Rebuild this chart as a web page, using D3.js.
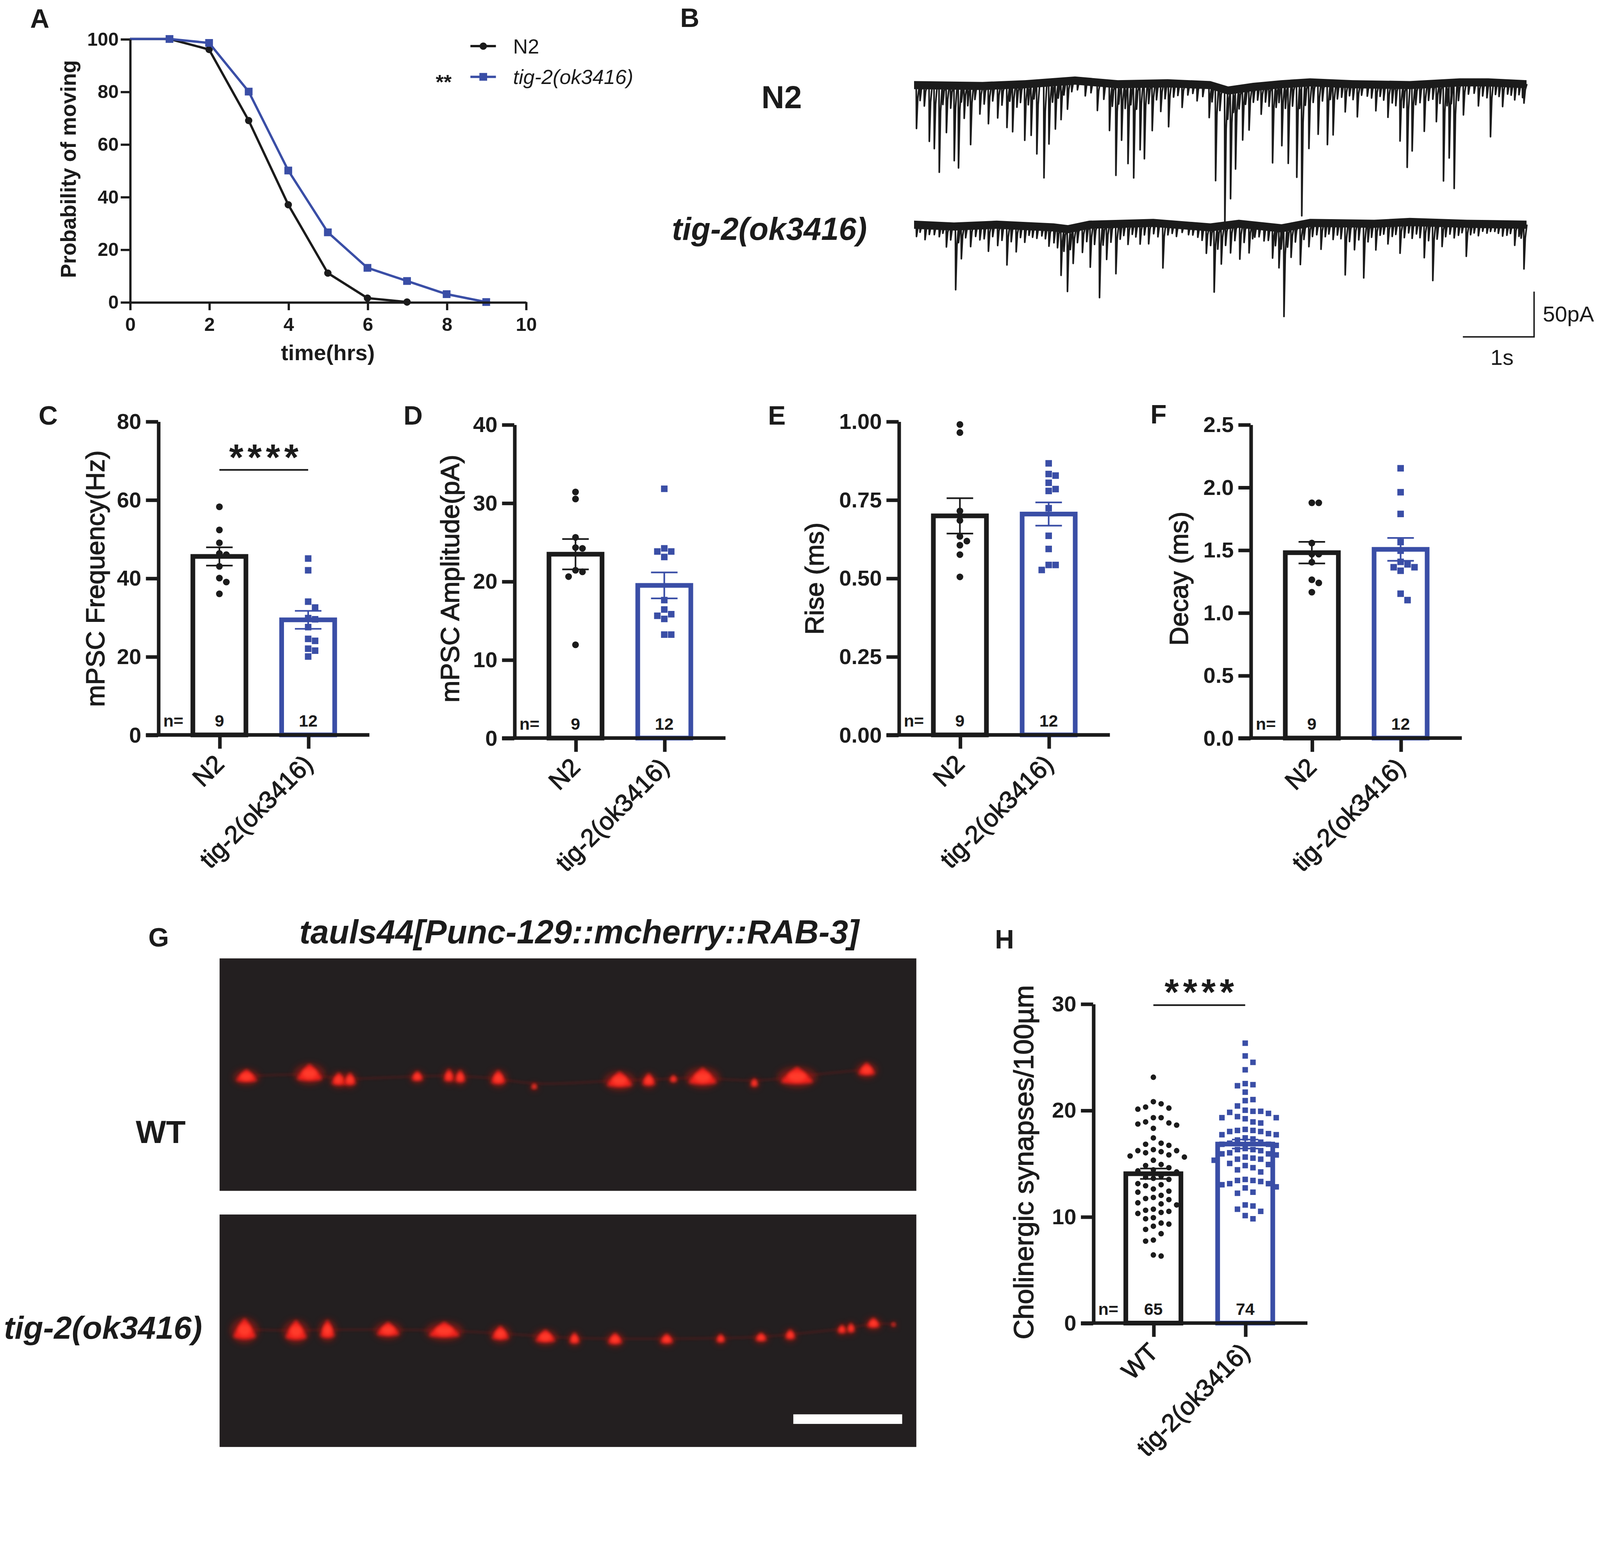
<!DOCTYPE html>
<html>
<head>
<meta charset="utf-8">
<title>tig-2 figure</title>
<script src="https://cdn.jsdelivr.net/npm/d3@7/dist/d3.min.js"></script>
<style>
  html, body { margin: 0; padding: 0; background: #fff; overflow: hidden; }
  svg { display: block; width: 100vw; height: 100vh; }
</style>
</head>
<body>
<svg id="figure"></svg>
<script>
// ---- values ----

// A: probability of moving
const hours = [0, 1, 2, 3, 4, 5, 6, 7, 8, 9];
const movingN2 = [100, 100, 96, 69, 37, 11, 1.5, 0];
const movingTig = [100, 100, 98.5, 80, 50, 26.5, 13, 8, 3, 0];
const hourTicks = [0, 2, 4, 6, 8, 10];
const movingTicks = [0, 20, 40, 60, 80, 100];

// B: mPSC traces, events as [time s, amplitude pA], baseline drift as [time s, pA]
const n2Spikes = [
  [0.07,48],[0.25,62],[0.32,70],[0.39,96],[0.49,52],[0.60,83],[0.66,91],[0.74,36],[0.83,65],[0.96,31],
  [1.08,42],[1.21,36],[1.34,47],[1.42,52],[1.59,62],[1.68,57],[1.76,78],[1.86,105],[1.93,68],[2.02,52],
  [2.10,42],[2.19,31],[2.44,16],[2.61,31],[2.78,52],[2.87,101],[2.95,62],[3.04,88],[3.12,104],[3.21,73],
  [3.27,83],[3.38,52],[3.50,31],[3.61,48],[3.80,26],[4.01,18],[4.18,36],[4.27,104],[4.40,147],[4.48,120],
  [4.55,88],[4.65,57],[4.74,47],[4.91,31],[5.07,86],[5.20,68],[5.29,88],[5.41,104],[5.48,147],[5.58,73],
  [5.71,57],[5.84,68],[5.92,57],[6.09,31],[6.26,36],[6.52,29],[6.69,36],[6.86,62],[6.96,91],[7.03,73],
  [7.20,52],[7.37,42],[7.47,108],[7.55,83],[7.62,117],[7.75,36],[7.96,26],[8.13,60],[8.30,26],[8.47,18],[8.60,21]
];
const n2SmallEvents = [
  [0.12,17],[0.18,23],[0.44,21],[0.55,25],[0.70,18],[0.79,22],[0.89,15],[1.02,20],[1.14,17],[1.27,22],
  [1.38,18],[1.48,25],[1.53,20],[1.64,23],[1.72,17],[1.98,22],[2.06,18],[2.14,15],[2.25,12],[2.33,10],
  [2.52,12],[2.70,18],[2.82,25],[2.91,22],[3.00,27],[3.08,23],[3.16,28],[3.33,22],[3.44,18],[3.56,17],
  [3.68,15],[3.74,13],[3.88,12],[3.95,10],[4.09,13],[4.22,18],[4.33,25],[4.44,32],[4.52,25],[4.60,22],
  [4.69,18],[4.80,17],[4.86,15],[4.97,18],[5.02,23],[5.12,25],[5.16,20],[5.25,27],[5.35,25],[5.45,28],
  [5.53,25],[5.64,22],[5.77,20],[5.88,18],[5.98,17],[6.04,15],[6.15,13],[6.20,17],[6.32,12],[6.40,13],
  [6.46,15],[6.58,13],[6.63,17],[6.75,20],[6.80,23],[6.91,25],[7.08,22],[7.14,20],[7.26,18],[7.32,17],
  [7.42,22],[7.52,25],[7.58,23],[7.68,20],[7.82,13],[7.90,12],[8.02,15],[8.08,17],[8.20,13],[8.25,15],
  [8.37,12],[8.42,13],[8.53,12],[8.58,15]
];
const tigSpikes = [
  [0.07,13],[0.19,16],[0.32,10],[0.49,23],[0.62,70],[0.70,36],[0.83,23],[0.96,16],[1.08,29],[1.21,23],
  [1.34,44],[1.47,29],[1.59,18],[1.76,13],[1.93,21],[2.10,52],[2.19,69],[2.27,39],[2.40,29],[2.51,47],
  [2.64,81],[2.74,39],[2.87,55],[3.04,23],[3.21,23],[3.33,23],[3.53,49],[3.72,13],[3.89,10],[4.14,29],
  [4.25,72],[4.35,42],[4.48,31],[4.61,39],[4.74,31],[4.82,13],[4.95,16],[5.07,34],[5.16,44],[5.23,98],
  [5.33,34],[5.46,44],[5.58,26],[5.75,29],[5.92,18],[6.09,57],[6.22,29],[6.35,60],[6.52,29],[6.69,23],
  [6.86,34],[7.03,18],[7.20,39],[7.32,64],[7.45,26],[7.62,16],[7.79,36],[7.96,13],[8.13,8],[8.30,13],
  [8.47,23],[8.60,49]
];
const tigSmallEvents = [
  [0.12,8],[0.25,10],[0.39,12],[0.44,8],[0.55,15],[0.66,18],[0.76,13],[0.90,12],[1.02,15],[1.14,13],
  [1.27,17],[1.40,18],[1.53,13],[1.65,10],[1.70,12],[1.83,10],[1.88,13],[2.00,17],[2.05,22],[2.14,25],
  [2.23,23],[2.33,17],[2.46,18],[2.57,22],[2.69,23],[2.80,20],[2.93,17],[2.98,13],[3.10,12],[3.15,15],
  [3.27,13],[3.40,12],[3.46,15],[3.60,12],[3.66,10],[3.80,8],[3.95,10],[4.02,12],[4.08,15],[4.20,20],
  [4.30,25],[4.41,22],[4.54,18],[4.67,20],[4.79,15],[4.88,12],[5.01,15],[5.11,20],[5.19,23],[5.28,22],
  [5.39,18],[5.51,17],[5.63,15],[5.69,13],[5.81,15],[5.86,12],[5.98,13],[6.03,17],[6.15,20],[6.28,18],
  [6.41,20],[6.46,15],[6.58,13],[6.63,12],[6.75,15],[6.80,13],[6.92,17],[6.98,12],[7.09,13],[7.14,17],
  [7.26,20],[7.38,18],[7.50,15],[7.56,12],[7.68,13],[7.73,10],[7.85,12],[7.90,10],[8.02,8],[8.08,10],
  [8.19,8],[8.24,10],[8.36,12],[8.41,10],[8.53,13],[8.56,15]
];
const n2Drift = [[0.04,0],[1.0,-1],[1.6,1],[2.3,5],[2.9,1],[3.6,2],[4.2,0],[4.45,-6],[4.8,-2],[5.2,1],[5.6,3],[6.2,1],[7.0,0],[7.7,3],[8.1,3],[8.64,1]];
const tigDrift = [[0.04,0],[0.6,-2],[1.2,0],[2.0,-3],[2.2,-5],[2.5,0],[3.4,2],[4.2,-3],[4.6,1],[5.2,-4],[5.6,2],[6.5,1],[7.0,3],[7.8,1],[8.64,0]];
const noisePA = 4.5;
const scaleBarPA = 50;
const scaleBarS = 1;

// C-F: electrophysiology per animal
const electroGroups = ["N2", "tig-2(ok3416)"];
const freqN2 = [58.2, 52.3, 49.0, 46.3, 46.0, 43.0, 40.0, 39.0, 36.0];
const freqTig = [45.0, 42.0, 34.0, 32.5, 29.8, 29.5, 27.5, 24.5, 24.0, 22.0, 21.5, 20.0];
const freqTicks = [0, 20, 40, 60, 80];
const ampN2 = [31.4, 30.5, 25.6, 24.3, 24.2, 21.4, 21.2, 20.6, 11.9];
const ampTig = [31.8, 24.2, 23.8, 23.8, 23.1, 17.6, 16.4, 15.8, 15.6, 15.2, 13.2, 13.2];
const ampTicks = [0, 10, 20, 30, 40];
const riseN2 = [0.99, 0.964, 0.714, 0.684, 0.633, 0.618, 0.605, 0.575, 0.504];
const riseTig = [0.866, 0.832, 0.827, 0.804, 0.784, 0.778, 0.723, 0.635, 0.593, 0.542, 0.542, 0.526];
const riseTicks = [0, 0.25, 0.5, 0.75, 1.0];
const decayN2 = [1.876, 1.876, 1.555, 1.466, 1.466, 1.402, 1.262, 1.237, 1.163];
const decayTig = [2.151, 1.96, 1.787, 1.563, 1.494, 1.405, 1.385, 1.362, 1.362, 1.334, 1.151, 1.1];
const decayTicks = [0, 0.5, 1.0, 1.5, 2.0, 2.5];

// G: puncta along the nerve cord, [x um, y um, width um, height um]
const wtPuncta = [
  [2.47,10.82,1.5,0.9],[8.26,10.54,1.8,1.2],[10.95,11.1,1.0,0.9],[11.98,11.1,0.8,0.9],[18.16,10.82,0.8,0.7],
  [21.07,10.76,0.7,0.9],[22.1,10.85,0.7,0.9],[25.6,10.95,1.0,1.0],[28.9,11.73,0.4,0.4],[36.74,11.16,1.8,1.1],
  [39.42,11.16,0.9,0.9],[41.69,11.04,0.5,0.5],[44.37,10.88,2.0,1.2],[49.12,11.4,0.5,0.6],[53.04,10.82,2.3,1.2],
  [59.44,10.2,1.2,0.9]
];
const tigPuncta = [
  [2.29,10.57,1.6,1.5],[7.02,10.68,1.5,1.4],[9.91,10.57,1.0,1.3],[15.48,10.57,1.6,1.0],[20.64,10.63,2.2,1.1],
  [25.8,10.91,1.2,1.0],[29.93,11.2,1.4,0.9],[32.6,11.37,0.7,0.8],[36.33,11.42,1.0,0.8],[41.07,11.42,0.9,0.7],
  [46.03,11.37,0.6,0.6],[49.74,11.26,0.8,0.6],[52.42,11.02,0.7,0.7],[57.17,10.52,0.6,0.6],[58.0,10.4,0.5,0.7],
  [60.06,9.96,0.9,0.7],[61.91,10.07,0.3,0.3]
];
const scaleBarUm = 10;

// H: cholinergic synapses per 100 um
const synGroups = ["WT", "tig-2(ok3416)"];
const synWT = [
  23.1, 20.8, 20.6, 20.3, 20.2, 20.1, 19.3, 19.3, 18.9, 18.8, 18.7, 18.6, 18.3, 17.4,
  16.9, 16.8, 16.7, 16.3, 16.2, 16.2, 16.1, 16.0, 15.8, 15.7, 15.6, 15.3, 14.9, 14.8, 14.6,
  14.4, 14.3, 14.2, 13.8, 13.7, 13.6, 13.5, 13.1, 13.0, 12.9, 12.6, 12.4, 12.3, 12.0,
  11.8, 11.7, 11.6, 11.3, 11.2, 11.1, 10.7, 10.6, 10.5, 10.4, 10.3, 9.9, 9.8,
  9.4, 9.3, 9.1, 8.8, 8.4, 7.8, 7.7, 6.4, 6.3
];
const synTig = [
  26.3, 25.1, 24.5, 23.8, 22.5, 22.4, 22.3, 21.7, 21.0, 20.9, 20.4,
  20.0, 19.9, 19.9, 19.8, 19.7, 19.4, 19.3, 19.3, 19.2, 18.9, 18.8,
  18.2, 18.1, 18.1, 18.0, 18.0, 17.8, 17.7, 17.7, 17.4, 17.3, 17.2,
  17.0, 16.9, 16.8, 16.8, 16.7, 16.4, 16.3, 16.3, 16.2, 16.0, 15.9, 15.9, 15.8,
  15.6, 15.5, 15.4, 15.4, 15.3, 15.0, 14.9, 14.8, 14.6, 14.4, 14.2,
  13.5, 13.4, 13.4, 13.3, 13.1, 13.1, 13.0, 12.8, 12.7, 12.3, 12.2,
  11.1, 11.0, 10.7, 10.5, 10.1, 9.8
];
const synTicks = [0, 10, 20, 30];

// ---- drawing ----
const ink = "#1b1b1b";
const blue = "#3a4ea6";
const FONT = "'Liberation Sans', Arial, Helvetica, sans-serif";
const VW = 1568, VH = 1435.7;

const svg = d3.select("#figure")
  .attr("viewBox", `0 0 ${VW} ${VH}`)
  .attr("preserveAspectRatio", "xMinYMin meet")
  .style("font-family", FONT);

svg.append("rect").attr("width", VW).attr("height", VH).attr("fill", "#fff");
const defs = svg.append("defs");

function label(parent, txt, x, y, size, opts = {}) {
  const t = parent.append("text")
    .attr("x", x)
    .attr("y", y + 0.358 * size)
    .attr("text-anchor", opts.anchor || "middle")
    .attr("font-size", size)
    .attr("font-weight", opts.bold ? "bold" : "normal")
    .attr("font-style", opts.italic ? "italic" : "normal")
    .attr("font-family", FONT)
    .attr("fill", opts.color || ink)
    .text(txt);
  if (opts.heavy) t.attr("stroke", opts.color || ink).attr("stroke-width", opts.heavy);
  return t;
}

function styleAxis(a, width, size, bold) {
  a.selectAll("path, line").attr("stroke", ink).attr("stroke-width", width);
  a.selectAll("text")
    .attr("fill", ink)
    .attr("font-size", size)
    .attr("font-weight", bold ? "bold" : "normal")
    .attr("font-family", FONT);
}

function marker(g, shape, cx, cy, size, color) {
  if (shape === "circle") {
    g.append("circle").attr("cx", cx).attr("cy", cy).attr("r", size / 2).attr("fill", color);
  } else {
    g.append("rect").attr("x", cx - size / 2).attr("y", cy - size / 2)
      .attr("width", size).attr("height", size).attr("fill", color);
  }
}

// A
function drawSurvival() {
  const g = svg.append("g");
  const x = d3.scaleLinear().domain([0, 10]).range([127.3, 515.3]);
  const y = d3.scaleLinear().domain([0, 100]).range([296, 38.2]);

  const series = [
    { values: movingN2, color: ink, shape: "circle", size: 7.2 },
    { values: movingTig, color: blue, shape: "square", size: 7.6 }
  ];
  const line = d3.line().x(d => x(d[0])).y(d => y(d[1]));
  series.forEach(s => {
    const pts = s.values.map((v, i) => [hours[i], v]);
    g.append("path").datum(pts).attr("d", line)
      .attr("fill", "none").attr("stroke", s.color).attr("stroke-width", 2.3);
    pts.filter(p => p[0] > 0).forEach(p => marker(g, s.shape, x(p[0]), y(p[1]), s.size, s.color));
  });

  const xAxis = g.append("g").attr("transform", `translate(0,${y(0)})`)
    .call(d3.axisBottom(x).tickValues(hourTicks).tickSize(8).tickPadding(7).tickSizeOuter(0));
  const yAxis = g.append("g").attr("transform", `translate(${x(0)},0)`)
    .call(d3.axisLeft(y).tickValues(movingTicks).tickSize(9).tickPadding(2).tickSizeOuter(0));
  styleAxis(xAxis, 2.2, 18.5, true);
  styleAxis(yAxis, 2.2, 18.5, true);

  label(g, "time(hrs)", 321.3, 345.4, 21.5, { bold: true });
  label(g, "Probability of moving", 0, 0, 20.9, { bold: true })
    .attr("transform", "translate(66.8,165.7) rotate(-90)");

  // legend
  const legend = [
    { txt: "N2", italic: false, y: 45.2, s: series[0] },
    { txt: "tig-2(ok3416)", italic: true, y: 75.3, s: series[1] }
  ];
  legend.forEach(l => {
    g.append("line").attr("x1", 461).attr("x2", 486).attr("y1", l.y).attr("y2", l.y)
      .attr("stroke", l.s.color).attr("stroke-width", 2.3);
    marker(g, l.s.shape, 473.6, l.y, l.s.size, l.s.color);
    label(g, l.txt, 502.8, l.y, 20, { anchor: "start", italic: l.italic });
  });
  label(g, "**", 434.8, 80, 20, { bold: true });
}

// B
function drawTraces() {
  const g = svg.append("g");
  const x = d3.scaleLinear().domain([0, 8.64]).range([893, 1496]);
  const pxPerPA = 44.3 / scaleBarPA;
  const traces = [
    { name: "N2", italic: false, spikes: n2Spikes.concat(n2SmallEvents), drift: n2Drift, base: 83.4, lx: 766, ly: 95 },
    { name: "tig-2(ok3416)", italic: true, spikes: tigSpikes.concat(tigSmallEvents), drift: tigDrift, base: 220.2, lx: 754, ly: 224 }
  ];
  let yLast = null;
  traces.forEach(tr => {
    const y = d3.scaleLinear().domain([0, -scaleBarPA]).range([tr.base, tr.base + scaleBarPA * pxPerPA]);
    const level = d3.scaleLinear().domain(tr.drift.map(d => d[0])).range(tr.drift.map(d => d[1]));
    const band = d3.area()
      .x(d => x(d[0]))
      .y0(d => y(d[1] - noisePA))
      .y1(d => y(d[1] + noisePA));
    g.append("path").datum(tr.drift).attr("d", band).attr("fill", ink);

    const spikePath = d3.path();
    tr.spikes.forEach(([t, a]) => {
      const b = level(t);
      spikePath.moveTo(x(t), y(b + noisePA * 0.8));
      spikePath.lineTo(x(t + 0.004), y(b - a));
      spikePath.lineTo(x(t + 0.022), y(b - a * 0.3));
      spikePath.lineTo(x(t + 0.045), y(b));
    });
    g.append("path").attr("d", spikePath.toString())
      .attr("fill", "none").attr("stroke", ink).attr("stroke-width", 1.6).attr("stroke-linejoin", "round");

    label(g, tr.name, tr.lx, tr.ly, 31, { bold: true, italic: tr.italic });
    yLast = y;
  });

  // scale bar
  const barX = 1503.4;
  const barBottom = 330.1;
  const barTop = barBottom - (yLast(-scaleBarPA) - yLast(0));
  const barLeft = barX - (x(scaleBarS) - x(0));
  g.append("path")
    .attr("d", `M${barX},${barTop}V${barBottom}H${barLeft}`)
    .attr("fill", "none").attr("stroke", ink).attr("stroke-width", 1.4);
  label(g, "50pA", barX + 8.5, 307.3, 21.5, { anchor: "start" });
  label(g, "1s", (barX + barLeft) / 2 + 3.5, 349.9, 21.5);
}

// beeswarm-like horizontal spread of points with close values
function dodge(vals, y, cx, dist) {
  const order = d3.range(vals.length).sort((a, b) => d3.descending(vals[a], vals[b]));
  const placed = [];
  const pos = new Array(vals.length);
  order.forEach(i => {
    const py = y(vals[i]);
    for (let k = 0; k < 60; k++) {
      const px = cx + (k === 0 ? 0 : (k % 2 ? 1 : -1) * Math.ceil(k / 2) * dist);
      if (placed.every(q => (q[0] - px) ** 2 + (q[1] - py) ** 2 >= dist * dist * 0.98)) {
        placed.push([px, py]);
        pos[i] = [px, py];
        break;
      }
    }
  });
  return pos;
}

// C-F, H
function drawBarPanel(p) {
  const g = svg.append("g");
  const L = p.left;
  const y = d3.scaleLinear().domain(p.domain).range([p.bottom, p.top]);
  const x = d3.scalePoint().domain(p.groups).range([L + p.centers[0], L + p.centers[1]]);
  const colors = [ink, blue];
  const shapes = ["circle", "square"];

  p.series.forEach((vals, i) => {
    const cx = x(p.groups[i]);
    const mean = d3.mean(vals);
    const sem = d3.deviation(vals) / Math.sqrt(vals.length);
    g.append("rect")
      .attr("x", cx - p.barW / 2).attr("y", y(mean))
      .attr("width", p.barW).attr("height", y(p.domain[0]) - y(mean))
      .attr("fill", "#fff").attr("stroke", colors[i]).attr("stroke-width", 4.6);

    dodge(vals, y, cx, p.dist).forEach(([px, py]) =>
      marker(g, shapes[i], px, py, i === 0 ? p.dot : p.sq, colors[i]));

    const cap = 26;
    g.append("path")
      .attr("d", `M${cx},${y(mean - sem)}V${y(mean + sem)}` +
        `M${cx - cap / 2},${y(mean + sem)}H${cx + cap / 2}` +
        `M${cx - cap / 2},${y(mean - sem)}H${cx + cap / 2}`)
      .attr("fill", "none").attr("stroke", colors[i]).attr("stroke-width", 1.6);

    label(g, String(vals.length), cx, p.bottom - 14, 16.5, { bold: true });
  });
  label(g, "n=", L + 5, p.bottom - 14, 16.5, { bold: true, anchor: "start" });

  // axes
  const yAxis = g.append("g").attr("transform", `translate(${L},0)`)
    .call(d3.axisLeft(y).tickValues(p.ticks).tickSize(12).tickPadding(4.5).tickSizeOuter(0)
      .tickFormat(d3.format(p.fmt)));
  styleAxis(yAxis, 3.5, 21.5, true);
  const xAxis = g.append("g").attr("transform", `translate(0,${p.bottom})`)
    .call(d3.axisBottom(x).tickSize(13.5).tickFormat(""));
  xAxis.select(".domain").remove();
  styleAxis(xAxis, 3.5, 21.5, true);
  g.append("line").attr("x1", L - 12).attr("x2", L + p.right).attr("y1", p.bottom).attr("y2", p.bottom)
    .attr("stroke", ink).attr("stroke-width", 3.5);

  g.selectAll("text.xlab").data(p.groups).join("text")
    .attr("class", "xlab")
    .attr("transform", d => `translate(${x(d) + 6},${p.bottom + 30}) rotate(-45)`)
    .attr("text-anchor", "end")
    .attr("font-size", 24.5)
    .attr("font-family", FONT)
    .attr("fill", ink)
    .attr("stroke", ink)
    .attr("stroke-width", 0.6)
    .text(d => d);

  label(g, p.title, 0, 0, p.titleSize, { heavy: 0.6 })
    .attr("transform", `translate(${L + p.titleDx},${p.titleY}) rotate(-90)`);

  if (p.sig) {
    const mid = (x(p.groups[0]) + x(p.groups[1])) / 2;
    g.append("text").attr("x", mid - 34).attr("y", p.sig.textY + 0.54 * 36)
      .attr("font-size", 36).attr("font-weight", "bold").attr("letter-spacing", 4)
      .attr("font-family", FONT).attr("fill", ink).text("****");
    g.append("line").attr("x1", x(p.groups[0])).attr("x2", x(p.groups[1]))
      .attr("y1", p.sig.lineY).attr("y2", p.sig.lineY)
      .attr("stroke", ink).attr("stroke-width", 1.6);
  }
}

// G
function drawImages() {
  const g = svg.append("g");
  const left = 215.2, right = 898, frameH = 227.8;
  const xs = d3.scaleLinear().domain([0, 64]).range([left, right]);
  const pxPerUm = (right - left) / 64;

  const blur = defs.append("filter").attr("id", "punctaBlur")
    .attr("x", "-80%").attr("y", "-80%").attr("width", "260%").attr("height", "260%");
  blur.append("feGaussianBlur").attr("stdDeviation", 1.6);
  const halo = defs.append("filter").attr("id", "punctaHalo")
    .attr("x", "-100%").attr("y", "-100%").attr("width", "300%").attr("height", "300%");
  halo.append("feGaussianBlur").attr("stdDeviation", 3.2);
  const faint = defs.append("filter").attr("id", "cordBlur")
    .attr("x", "-5%").attr("y", "-200%").attr("width", "110%").attr("height", "500%");
  faint.append("feGaussianBlur").attr("stdDeviation", 1.2);

  const frames = [
    { top: 939.2, puncta: wtPuncta, name: "WT", italic: false, lx: 157.5, ly: 1108.9 },
    { top: 1190.2, puncta: tigPuncta, name: "tig-2(ok3416)", italic: true, lx: 101, ly: 1300.8 }
  ];
  frames.forEach(f => {
    const ys = d3.scaleLinear().domain([0, frameH / pxPerUm]).range([f.top, f.top + frameH]);
    g.append("rect").attr("x", left).attr("y", f.top).attr("width", right - left).attr("height", frameH)
      .attr("fill", "#231f20");
    const cord = d3.line().curve(d3.curveBasis).x(d => xs(d[0])).y(d => ys(d[1]));
    g.append("path").datum(f.puncta).attr("d", cord)
      .attr("fill", "none").attr("stroke", "#6e1512").attr("stroke-width", 1.8)
      .attr("opacity", 0.5).attr("filter", "url(#cordBlur)");
    f.puncta.forEach(([px, py, w, h]) => {
      const cx = xs(px), cy = ys(py);
      const rx = w / 2 * pxPerUm * 1.3, ry = h / 2 * pxPerUm * 1.3;
      g.append("ellipse").attr("cx", cx).attr("cy", cy + 1)
        .attr("rx", rx * 1.2).attr("ry", ry * 1.15)
        .attr("fill", "#c2160f").attr("opacity", 0.55).attr("filter", "url(#punctaHalo)");
      g.append("path")
        .attr("d", `M${cx - rx},${cy + ry * 0.7}Q${cx - rx * 0.6},${cy - ry * 0.4} ${cx},${cy - ry * 1.1}` +
          `Q${cx + rx * 0.6},${cy - ry * 0.4} ${cx + rx},${cy + ry * 0.7}Q${cx},${cy + ry * 1.1} ${cx - rx},${cy + ry * 0.7}Z`)
        .attr("fill", "#f2231a").attr("filter", "url(#punctaBlur)");
      g.append("ellipse").attr("cx", cx).attr("cy", cy + 0.5)
        .attr("rx", rx * 0.55).attr("ry", ry * 0.55)
        .attr("fill", "#ff3a2a").attr("filter", "url(#punctaBlur)");
    });
    label(g, f.name, f.lx, f.ly, 31.5, { bold: true, italic: f.italic });
  });

  // scale bar in the lower frame
  g.append("rect").attr("x", xs(52.7)).attr("y", 1386)
    .attr("width", xs(52.7 + scaleBarUm) - xs(52.7)).attr("height", 9.4).attr("fill", "#fff");

  label(g, "tauls44[Punc-129::mcherry::RAB-3]", 567.7, 913, 32.5, { bold: true, italic: true })
    .attr("textLength", 548.5).attr("lengthAdjust", "spacingAndGlyphs");
}

drawSurvival();
drawTraces();

const electroBase = { groups: electroGroups, centers: [60, 147], right: 207, barW: 52, dot: 6.6, sq: 6.4, dist: 6.8, titleSize: 25.7, titleY: 567 };
drawBarPanel({ ...electroBase, series: [freqN2, freqTig], left: 155, top: 412.9, bottom: 720.2, domain: [0, 80],
  ticks: freqTicks, fmt: "d", title: "mPSC Frequency(Hz)", titleDx: -62, sig: { textY: 441, lineY: 460.5 } });
drawBarPanel({ ...electroBase, series: [ampN2, ampTig], left: 504, top: 416, bottom: 723.3, domain: [0, 40],
  ticks: ampTicks, fmt: "d", title: "mPSC Amplitude(pA)", titleDx: -63.3 });
drawBarPanel({ ...electroBase, series: [riseN2, riseTig], left: 880.7, top: 412.9, bottom: 720.2, domain: [0, 1],
  ticks: riseTicks, fmt: ".2f", title: "Rise (ms)", titleDx: -83 });
drawBarPanel({ ...electroBase, series: [decayN2, decayTig], left: 1225.6, top: 416, bottom: 723.3, domain: [0, 2.5],
  ticks: decayTicks, fmt: ".1f", title: "Decay (ms)", titleDx: -70.6 });

drawImages();

drawBarPanel({ groups: synGroups, series: [synWT, synTig], centers: [59, 149], right: 210, barW: 54, dot: 5.4, sq: 5.4, dist: 7.6,
  left: 1071.3, top: 983.7, bottom: 1296.6, domain: [0, 30], ticks: synTicks, fmt: "d",
  title: "Cholinergic synapses/100µm", titleDx: -68.3, titleY: 1139, titleSize: 27,
  sig: { textY: 965.3, lineY: 985 } });

// panel letters
[["A", 39, 18], ["B", 676, 17], ["C", 47.2, 407], ["D", 404.8, 407], ["E", 761.3, 407],
 ["F", 1135.3, 405.5], ["G", 155.5, 918.3], ["H", 984.4, 920]].forEach(([t, x, y]) =>
  label(svg, t, x, y, 26, { bold: true }));
</script>
</body>
</html>
